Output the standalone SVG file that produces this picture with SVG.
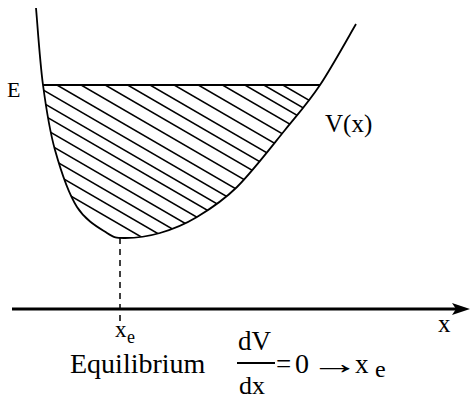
<svg xmlns="http://www.w3.org/2000/svg" width="470" height="394" viewBox="0 0 470 394">
<style>
.ln{stroke:#000;fill:none;stroke-linecap:butt}
.t{font-family:"Liberation Serif","Times New Roman",serif;fill:#000}
</style>
<defs>
<clipPath id="well">
<path d="M43,85 C46.2,108.7 49.3,129.7 55,150 C60.7,170.3 68.3,193.2 77,207 C85.7,220.8 99,227.8 107,233 C115,238.2 116.2,238 125,238 C133.8,238 148,236.5 160,233 C172,229.5 184.2,224.7 197,217 C209.8,209.3 222.3,201.5 237,187 C251.7,172.5 271.2,147 285,130 C298.8,113 308.2,102.7 320,85 Z"/>
</clipPath>
</defs>
<rect width="470" height="394" fill="#fff"/>
<g id="hatch" clip-path="url(#well)" class="ln" stroke-width="1.6">
<line x1="30" y1="172.4" x2="340" y2="352.2"/>
<line x1="30" y1="159.4" x2="340" y2="339.2"/>
<line x1="30" y1="146.4" x2="340" y2="326.2"/>
<line x1="30" y1="133.4" x2="340" y2="313.2"/>
<line x1="30" y1="120.4" x2="340" y2="300.2"/>
<line x1="30" y1="107.4" x2="340" y2="287.2"/>
<line x1="30" y1="95.4" x2="340" y2="275.2"/>
<line x1="30" y1="82.4" x2="340" y2="262.2"/>
<line x1="30" y1="69.4" x2="340" y2="249.2"/>
<line x1="30" y1="55.4" x2="340" y2="235.2"/>
<line x1="30" y1="41.4" x2="340" y2="221.2"/>
<line x1="30" y1="28.4" x2="340" y2="208.2"/>
<line x1="30" y1="15.4" x2="340" y2="195.2"/>
<line x1="30" y1="1.4" x2="340" y2="181.2"/>
<line x1="30" y1="-12.6" x2="340" y2="167.2"/>
<line x1="30" y1="-26.6" x2="340" y2="153.2"/>
<line x1="30" y1="-39.6" x2="340" y2="140.2"/>
<line x1="30" y1="-50.6" x2="340" y2="129.2"/>
<line x1="30" y1="-61.6" x2="340" y2="118.2"/>
</g>
<g id="potential" class="ln" stroke-width="1.8">
<path d="M36,8 C37.2,20.8 39.8,61.3 43,85 C46.2,108.7 49.3,129.7 55,150 C60.7,170.3 68.3,193.2 77,207 C85.7,220.8 99,227.8 107,233 C115,238.2 116.2,238 125,238 C133.8,238 148,236.5 160,233 C172,229.5 184.2,224.7 197,217 C209.8,209.3 222.3,201.5 237,187 C251.7,172.5 271.2,147 285,130 C298.8,113 308.2,102.7 320,85 C331.8,67.3 350,34.2 356,24"/>
</g>
<g id="energy-level" class="ln">
<line x1="43" y1="85" x2="320" y2="85" stroke-width="2.2"/>
</g>
<g id="connectors" class="ln">
<line x1="120" y1="238" x2="120" y2="322" stroke-width="1.5" stroke-dasharray="6,5"/>
<line x1="12" y1="309" x2="458" y2="309" stroke-width="3"/>
<path d="M470,309 L452,303 L456,309 L452,315 Z" fill="#000" stroke="none"/>
</g>
<g id="labels">
<text class="t" x="7" y="97" font-size="22">E</text>
<text class="t" x="325" y="132" font-size="25">V(x)</text>
<text class="t" x="438" y="332" font-size="25">x</text>
<text class="t" x="115" y="337" font-size="23">x</text>
<text class="t" x="127" y="343" font-size="18">e</text>
<text class="t" x="70" y="373" font-size="28">Equilibrium</text>
<text class="t" x="238" y="350" font-size="27">dV</text>
<line class="ln" x1="237" y1="363" x2="275" y2="363" stroke-width="2"/>
<text class="t" x="239" y="394" font-size="26">dx</text>
<text class="t" x="276" y="373" font-size="27">=</text>
<text class="t" x="295" y="373" font-size="28">0</text>
<text class="t" x="310" y="374" font-size="31" textLength="50" lengthAdjust="spacingAndGlyphs">→</text>
<text class="t" x="355" y="373" font-size="27">x</text>
<text class="t" x="375" y="377" font-size="24">e</text>
</g>
</svg>
